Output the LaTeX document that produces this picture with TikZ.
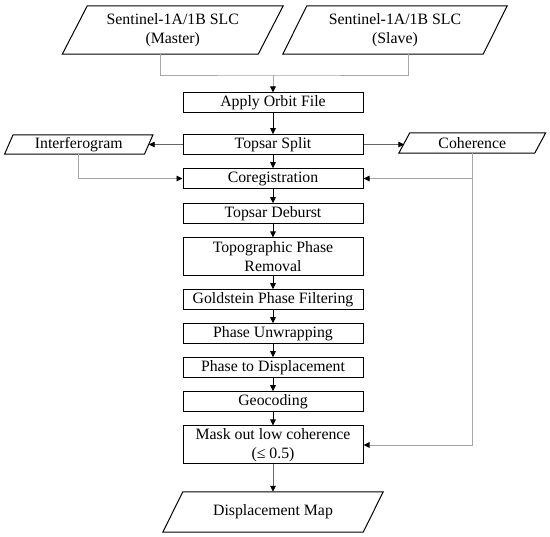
\documentclass[tikz,border=0pt]{standalone}
\usepackage{fontspec}
\setmainfont{Liberation Serif}
\usetikzlibrary{arrows.meta}
\tikzset{
  every node/.style={font=\fontsize{15.8}{19}\selectfont, align=center, inner sep=0pt},
  mainbox/.style={draw, line width=1pt, minimum width=180pt, minimum height=#1},
  mainbox/.default=19.5pt,
  paranode/.style={minimum width=#1},
  paraline/.style={draw, line width=1pt, line join=miter},
  blk/.style={line width=0.8pt, -{Triangle[length=6pt,width=5.5pt]}},
  gln/.style={line width=0.9pt, draw=gray!70},
  garr/.style={gln, -{Triangle[length=6pt,width=5.5pt,color=black]}},
  darr/.style={line width=0.9pt, draw=gray!120, -{Triangle[length=6pt,width=5.5pt,color=black]}},
}
\newcommand\mypara[2]{\draw[paraline] ([xshift=#2/2]#1.north west) -- ([xshift=#2/2]#1.north east) -- ([xshift=-#2/2]#1.south east) -- ([xshift=-#2/2]#1.south west) -- cycle;}
\begin{document}
\begin{tikzpicture}[x=1pt,y=-1pt]
\fill[white] (0,0) rectangle (550,537);
\useasboundingbox (0,0) rectangle (550,537);
% inputs
\node[paranode=195.5pt, minimum height=48pt] (master) at (172.75,30) {Sentinel-1A/1B SLC\\(Master)};
\mypara{master}{25pt}
\node[paranode=200pt, minimum height=48pt] (slave) at (395,30) {Sentinel-1A/1B SLC\\(Slave)};
\mypara{slave}{24pt}
% main column
\node[mainbox=20pt] (apply) at (273,103) {Apply Orbit File};
\node[mainbox] (split) at (273,144.5) {Topsar Split};
\node[mainbox] (coreg) at (273,178.5) {Coregistration};
\node[mainbox] (deburst) at (273,213.5) {Topsar Deburst};
\node[mainbox=38pt] (topo) at (273,257) {Topographic Phase\\Removal};
\node[mainbox] (gold) at (273,299.5) {Goldstein Phase Filtering};
\node[mainbox] (unwrap) at (273,333.5) {Phase Unwrapping};
\node[mainbox] (p2d) at (273,367.5) {Phase to Displacement};
\node[mainbox] (geo) at (273,401.5) {Geocoding};
\node[mainbox=38pt] (mask) at (273,445) {Mask out low coherence\\(≤ 0.5)};
% side outputs
\node[paranode=139.5pt, minimum height=19pt] (intf) at (78.75,144.5) {Interferogram};
\mypara{intf}{8.5pt}
\node[paranode=135.5pt, minimum height=20pt] (coh) at (472.25,143) {Coherence};
\mypara{coh}{11pt}
\node[paranode=200pt, minimum height=40pt] (disp) at (273,512) {Displacement Map};
\mypara{disp}{20pt}
% connectors
\coordinate (j) at (273,75);
\draw[gln] ([xshift=-12.75pt]master.south) |- (j) -| ([xshift=13pt]slave.south);
\draw[garr] (j) -- (apply.north);
\draw[blk] (apply) -- (split);
\draw[blk] (split) -- (coreg);
\draw[blk] (coreg) -- (deburst);
\draw[blk] (deburst) -- (topo);
\draw[blk] (topo) -- (gold);
\draw[blk] (gold) -- (unwrap);
\draw[blk] (unwrap) -- (p2d);
\draw[blk] (p2d) -- (geo);
\draw[blk] (geo) -- (mask);
\draw[darr] (split.west) -- (intf.east);
\draw[darr] (split.east) -- (split.east -| coh.west);
\draw[garr] (intf.south) |- (coreg.west);
\draw[garr] (coh.south) |- (mask.east);
\draw[garr] (coh.south |- coreg.east) -- (coreg.east);
\draw[darr] (mask.south) -- (disp.north);
\end{tikzpicture}
\end{document}
